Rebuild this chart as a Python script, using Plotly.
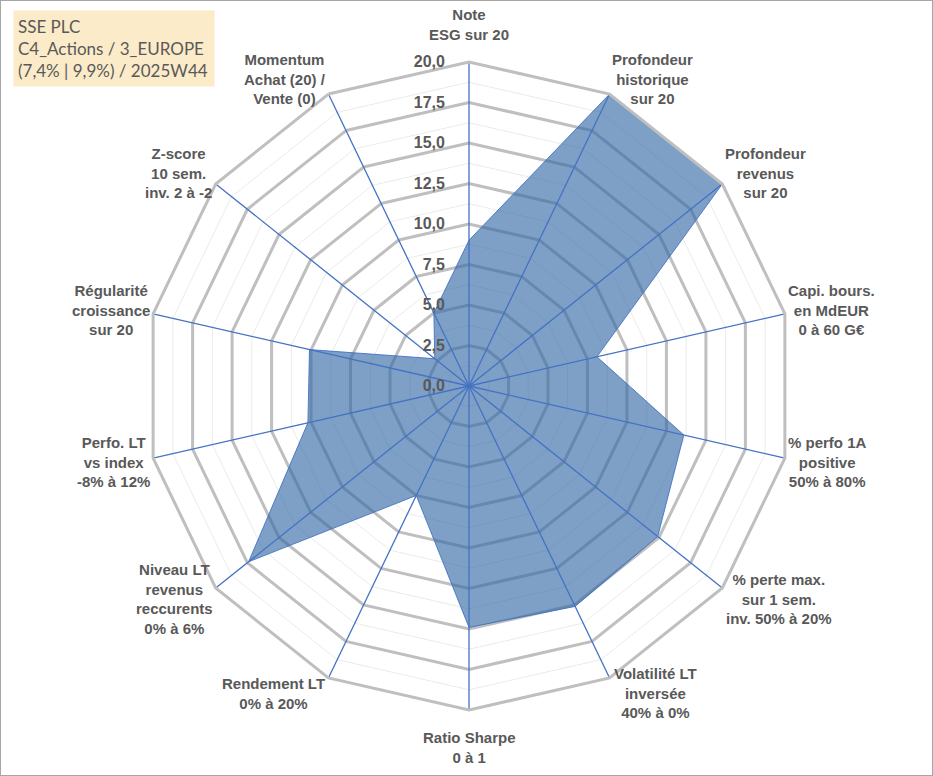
import math
import plotly.graph_objects as go

categories = [
    "Note<br>ESG sur 20",
    "Profondeur<br>historique<br>sur 20",
    "Profondeur<br>revenus<br>sur 20",
    "Capi. bours.<br>en MdEUR<br>0 à 60 G€",
    "% perfo 1A<br>positive<br>50% à 80%",
    "% perte max.<br>sur 1 sem.<br>inv. 50% à 20%",
    "Volatilité LT<br>inversée<br>40% à 0%",
    "Ratio Sharpe<br>0 à 1",
    "Rendement LT<br>0% à 20%",
    "Niveau LT<br>revenus<br>reccurents<br>0% à 6%",
    "Perfo. LT<br>vs index<br>-8% à 12%",
    "Régularité<br>croissance<br>sur 20",
    "Z-score<br>10 sem.<br>inv. 2 à -2",
    "Momentum<br>Achat (20) /<br>Vente (0)",
]
values = [9.0, 20.0, 20.0, 8.1, 13.6, 14.9, 15.1, 14.9, 7.5, 17.4, 10.2, 10.1, 2.7, 5.0]
major_ticks = [0, 2.5, 5, 7.5, 10, 12.5, 15, 17.5, 20]
minor_ticks = [1.25, 3.75, 6.25, 8.75, 11.25, 13.75, 16.25, 18.75]
r_max = 20
title_lines = ["SSE PLC", "C4_Actions / 3_EUROPE", "(7,4% | 9,9%) / 2025W44"]

TXT = "#595959"
GRID = "#BFBFBF"
BLUE = "#4472C4"

W, H = 933, 776
CX, CY, RPX = 469, 386, 324          # polar centre / radius in pixels
LABEL_SIZE = 15
LINE_H = 20
GAP_X = 3
GAP_Y = 17

# Arial-bold glyph advance widths (per 1000 em) for label box estimation
_AW = {" ": 278, "%": 889, "(": 333, ")": 333, "-": 333, ".": 278, "/": 278, ",": 278,
       "A": 722, "C": 722, "D": 722, "E": 667, "G": 778, "L": 611, "M": 833, "N": 722,
       "P": 667, "R": 722, "S": 667, "T": 611, "U": 722, "V": 667, "Z": 611,
       "a": 556, "b": 611, "c": 556, "d": 611, "e": 556, "f": 333, "h": 611, "i": 278,
       "l": 278, "m": 889, "n": 611, "o": 611, "p": 611, "q": 611, "r": 389, "s": 556,
       "t": 333, "u": 611, "v": 556, "x": 556, "à": 556, "é": 556, "€": 556}


def text_width(line):
    return sum(_AW.get(ch, 556) for ch in line) * LABEL_SIZE / 1000.0


fig = go.Figure()

closed = categories + [categories[0]]
for m in minor_ticks:
    fig.add_trace(go.Scatterpolar(
        r=[m] * len(closed), theta=closed, mode="lines",
        line=dict(color="#EBEBEB", width=1), hoverinfo="skip", showlegend=False))

fig.add_trace(go.Scatterpolar(
    r=values + [values[0]], theta=closed, mode="lines", fill="toself",
    fillcolor="rgba(50,104,164,0.63)",
    line=dict(color="rgba(68,114,196,0.9)", width=1),
    hoverinfo="skip", showlegend=False))

for c in categories:
    fig.add_trace(go.Scatterpolar(
        r=[0, r_max], theta=[c, c], mode="lines",
        line=dict(color=BLUE, width=1.3), hoverinfo="skip", showlegend=False))

# category labels, centred, placed outside each outer vertex (Excel-like)
annotations = []
n = len(categories)
for k, lab in enumerate(categories):
    th = math.radians(90 - k * 360.0 / n)
    c, s = math.cos(th), math.sin(th)
    lines = lab.split("<br>")
    w = max(text_width(l) for l in lines)
    h = len(lines) * LINE_H
    px = CX + RPX * c
    py = CY - RPX * s
    if abs(c) < 0.05:
        dx = 0
        dy = (h / 2 + GAP_Y) * (1 if s > 0 else -1)
    else:
        dx = (w / 2 + GAP_X) * (1 if c > 0 else -1)
        dy = GAP_Y * s
    annotations.append(dict(
        xref="paper", yref="paper", x=(px + dx) / W, y=1 - (py - dy) / H,
        xanchor="center", yanchor="middle", align="center", showarrow=False,
        text=lab, font=dict(size=LABEL_SIZE, color=TXT, family="Liberation Sans", weight="bold"),
    ))

annotations.append(dict(
    xref="paper", yref="paper", x=13 / W, y=1 - 10 / H,
    xanchor="left", yanchor="top", align="left", showarrow=False,
    text="<br>".join(title_lines),
    font=dict(family="Lato", size=17, color=TXT),
    width=192, height=67, valign="middle",
    bgcolor="#FCEBC9", borderpad=4,
))

fig.update_layout(
    width=W, height=H,
    margin=dict(l=0, r=0, t=0, b=0),
    paper_bgcolor="white",
    separators=", ",
    font=dict(family="Liberation Sans", color=TXT),
    polar=dict(
        domain=dict(x=[(CX - RPX) / W, (CX + RPX) / W],
                    y=[1 - (CY + RPX) / H, 1 - (CY - RPX) / H]),
        bgcolor="white",
        gridshape="linear",
        angularaxis=dict(
            direction="clockwise", rotation=90,
            showgrid=False, showline=True, linecolor=GRID, linewidth=3,
            ticks="", showticklabels=False,
        ),
        radialaxis=dict(
            range=[0, r_max], angle=90, tickangle=90,
            tickvals=major_ticks, tickformat=".1f",
            showline=False, ticks="outside", ticklen=18, tickcolor="rgba(0,0,0,0)",
            gridcolor=GRID, gridwidth=2.5,
            side="counterclockwise",
            tickfont=dict(size=16, color=TXT, family="Liberation Sans", weight="bold"),
        ),
    ),
    annotations=annotations,
    shapes=[dict(type="rect", xref="paper", yref="paper", x0=0, y0=0, x1=1, y1=1,
                 line=dict(color="#A6A6A6", width=2))],
)

fig.write_html("out.html", config={"displayModeBar": False},
               post_script="document.body.style.margin='0px';")
